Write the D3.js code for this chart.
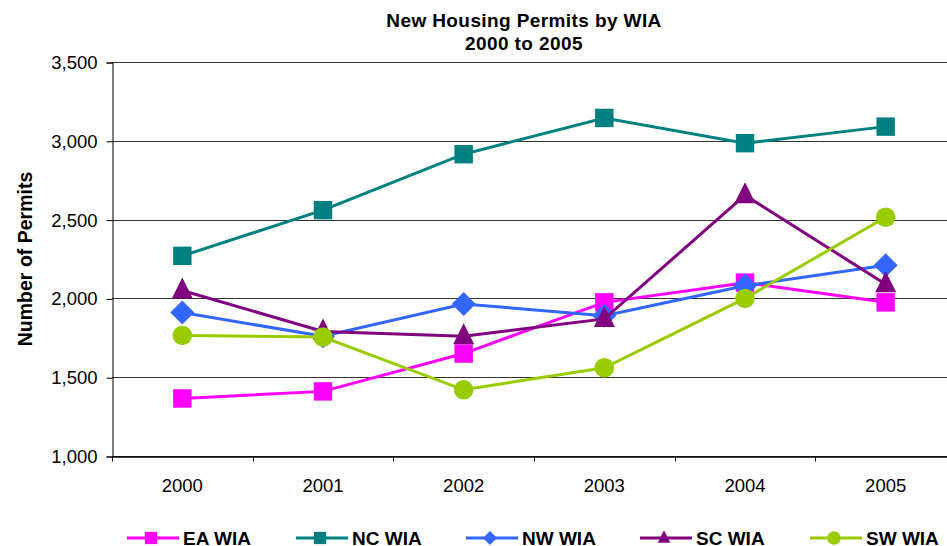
<!DOCTYPE html>
<html>
<head>
<meta charset="utf-8">
<script src="https://cdn.jsdelivr.net/npm/d3@7"></script>
<style>
  html, body { margin: 0; padding: 0; background: #fff; overflow: hidden; }
  svg { display: block; font-family: Arial, "Liberation Sans", sans-serif; }
</style>
</head>
<body>
<svg id="chart" width="947" height="546"></svg>
<script>
'use strict';

// data
var years = ['2000', '2001', '2002', '2003', '2004', '2005'];
var eaWia = [1365, 1410, 1650, 1975, 2100, 1975];
var ncWia = [2270, 2560, 2915, 3145, 2985, 3090];
var nwWia = [1910, 1760, 1965, 1890, 2080, 2210];
var scWia = [2050, 1790, 1760, 1870, 2655, 2090];
var swWia = [1765, 1755, 1420, 1560, 2000, 2515];
var yTicks = [1000, 1500, 2000, 2500, 3000, 3500];

var series = [
  {name: 'EA WIA', values: eaWia, color: '#ff00ff', symbol: 'square'},
  {name: 'NC WIA', values: ncWia, color: '#008080', symbol: 'square'},
  {name: 'NW WIA', values: nwWia, color: '#3366ff', symbol: 'diamond'},
  {name: 'SC WIA', values: scWia, color: '#800080', symbol: 'triangle'},
  {name: 'SW WIA', values: swWia, color: '#99cc00', symbol: 'circle'}
];

var svg = d3.select('#chart');
var margin = {left: 112, top: 62, right: 956, bottom: 456};

var x = d3.scaleBand().domain(years).range([margin.left, margin.right]);
var y = d3.scaleLinear().domain([1000, 3500]).range([margin.bottom, margin.top]);

function symbolPath(kind, big) {
  // marker shapes, sized to look like the excel ones
  if (kind === 'square') return d3.symbol(d3.symbolSquare, big ? 340 : 150)();
  if (kind === 'diamond') {
    var r = big ? 12 : 7;
    return 'M0,' + (-r) + 'L' + r + ',0L0,' + r + 'L' + (-r) + ',0Z';
  }
  if (kind === 'triangle') {
    var h = big ? 10 : 6;
    return 'M0,' + (-h * 1.3) + 'L' + (h * 1.05) + ',' + (h * 0.8) + 'L' + (-h * 1.05) + ',' + (h * 0.8) + 'Z';
  }
  return d3.symbol(d3.symbolCircle, big ? 300 : 140)();
}

// gridlines
svg.append('g')
  .selectAll('line')
  .data(yTicks)
  .join('line')
  .attr('x1', margin.left)
  .attr('x2', margin.right)
  .attr('y1', function(d) { return Math.round(y(d)) + 0.5; })
  .attr('y2', function(d) { return Math.round(y(d)) + 0.5; })
  .attr('stroke', '#333')
  .attr('stroke-width', 1);

// y axis
var yAxis = svg.append('g')
  .attr('transform', 'translate(' + (margin.left + 0.5) + ',0.5)')
  .call(d3.axisLeft(y).tickValues(yTicks).tickSize(6).tickPadding(9).tickFormat(d3.format(',')));
yAxis.select('.domain').attr('stroke', '#000');
yAxis.selectAll('.tick line').attr('stroke', '#000');
yAxis.selectAll('text').attr('font-size', 18.5).attr('fill', '#000');

// x axis, ticks on category boundaries
var xAxis = svg.append('g')
  .attr('transform', 'translate(0,' + (margin.bottom + 0.5) + ')')
  .call(d3.axisBottom(x).tickSize(0).tickPadding(22));
xAxis.select('.domain').attr('stroke', '#000').attr('stroke-width', 1.5);
xAxis.selectAll('text').attr('font-size', 18.5).attr('fill', '#000');
xAxis.append('g')
  .selectAll('line')
  .data(years)
  .join('line')
  .attr('x1', function(d) { return Math.round(x(d)) + 0.5; })
  .attr('x2', function(d) { return Math.round(x(d)) + 0.5; })
  .attr('y1', 0)
  .attr('y2', 5)
  .attr('stroke', '#000');

// lines + markers
var line = d3.line()
  .x(function(d, i) { return x(years[i]) + x.bandwidth() / 2; })
  .y(function(d) { return y(d); });

var plot = svg.append('g');
series.forEach(function(s) {
  var g = plot.append('g');
  g.append('path')
    .attr('d', line(s.values))
    .attr('fill', 'none')
    .attr('stroke', s.color)
    .attr('stroke-width', 3);
  g.selectAll('path.marker')
    .data(s.values)
    .join('path')
    .attr('class', 'marker')
    .attr('d', symbolPath(s.symbol, true))
    .attr('transform', function(d, i) {
      return 'translate(' + (x(years[i]) + x.bandwidth() / 2) + ',' + y(d) + ')';
    })
    .attr('fill', s.color);
});

// title
var title = svg.append('text')
  .attr('x', 524)
  .attr('text-anchor', 'middle')
  .attr('font-weight', 'bold')
  .attr('font-size', 19)
  .attr('letter-spacing', 0.4)
  .attr('fill', '#000');
title.append('tspan').attr('x', 524).attr('y', 27).text('New Housing Permits by WIA');
title.append('tspan').attr('x', 524).attr('y', 50).text('2000 to 2005');

// y title
svg.append('text')
  .attr('transform', 'translate(32,259) rotate(-90)')
  .attr('text-anchor', 'middle')
  .attr('font-weight', 'bold')
  .attr('font-size', 19.5)
  .attr('fill', '#000')
  .text('Number of Permits');

// legend
var legendX = [127, 296, 466, 640, 810];
var legend = svg.append('g');
series.forEach(function(s, i) {
  var g = legend.append('g').attr('transform', 'translate(' + legendX[i] + ',538)');
  g.append('line')
    .attr('x1', 0).attr('x2', 52)
    .attr('stroke', s.color)
    .attr('stroke-width', 3);
  g.append('path')
    .attr('d', symbolPath(s.symbol, false))
    .attr('transform', 'translate(24,0)')
    .attr('fill', s.color);
  g.append('text')
    .attr('x', 56)
    .attr('y', 6.5)
    .attr('font-weight', 'bold')
    .attr('font-size', 19)
    .attr('fill', '#000')
    .text(s.name);
});
</script>
</body>
</html>
